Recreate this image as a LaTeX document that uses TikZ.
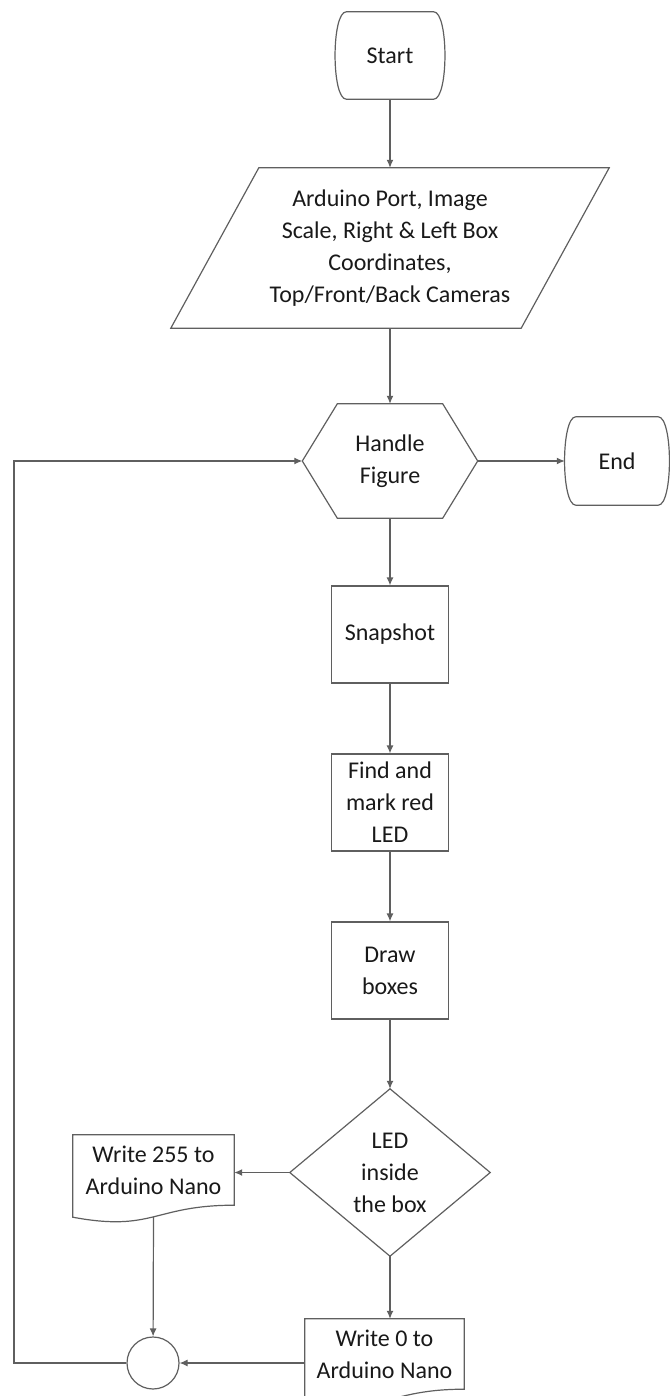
\documentclass[tikz,border=0pt]{standalone}
\usepackage{fontspec}
\setmainfont{Carlito}
\usepackage{xcolor}
\usepackage{tikz}
\usetikzlibrary{arrows.meta}
\definecolor{linegray}{RGB}{95,95,95}
\tikzstyle{frame}=[shape=rectangle, align=center, inner sep=0pt]
\tikzstyle{process}=[fill=white, draw=linegray, line width=1.2pt, shape=rectangle, align=center, inner sep=0pt, minimum width=117pt, minimum height=97pt]
\tikzstyle{connector}=[fill=white, draw=linegray, line width=1.2pt, shape=circle, inner sep=0pt, minimum size=52pt]
\tikzstyle{outline}=[draw=linegray, line width=1.2pt]
\tikzstyle{flow edge}=[-{Latex[length=8pt,width=7pt]}, draw=linegray, line width=1.2pt]
\pgfdeclarelayer{nodelayer}
\pgfdeclarelayer{edgelayer}
\pgfsetlayers{edgelayer,nodelayer,main}

\begin{document}
\begin{tikzpicture}[x=1pt, y=-1pt, every node/.style={font=\fontsize{24}{32}\selectfont, text=black!90}]
	\useasboundingbox (0,0) rectangle (669,1396);
	\begin{pgfonlayer}{nodelayer}
		\node [style=frame, minimum width=109pt, minimum height=87pt] (0) at (390, 55.5) {Start};
		\node [style=frame, minimum width=350pt, minimum height=160pt] (1) at (390, 248) {Arduino Port, Image\\Scale, Right \& Left Box\\Coordinates,\\Top/Front/Back Cameras};
		\node [style=frame, minimum width=175pt, minimum height=114pt] (2) at (390, 461) {Handle\\Figure};
		\node [style=frame, minimum width=104pt, minimum height=88pt] (3) at (617, 461) {End};
		\node [style=process] (4) at (390, 634.5) {Snapshot};
		\node [style=process] (5) at (390, 802.5) {Find and\\mark red\\LED};
		\node [style=process] (6) at (390, 970.5) {Draw\\boxes};
		\node [style=frame, minimum width=200pt, minimum height=167pt] (7) at (390, 1172.5) {LED\\inside\\the box};
		\node [style=frame, minimum width=161pt, minimum height=70pt] (8) at (153.5, 1170) {Write 255 to\\Arduino Nano};
		\node [style=frame, minimum width=159pt, minimum height=70pt] (9) at (384.5, 1354) {Write 0 to\\Arduino Nano};
		\node [style=connector] (10) at (153, 1363) {};
		\coordinate (11) at (14, 1363);
		% terminals
		\draw [style=outline] ([xshift=11pt]0.north west) -- ([xshift=-11pt]0.north east) .. controls ([xshift=4pt]0.north east) and ([xshift=4pt]0.south east) .. ([xshift=-11pt]0.south east) -- ([xshift=11pt]0.south west) .. controls ([xshift=-4pt]0.south west) and ([xshift=-4pt]0.north west) .. ([xshift=11pt]0.north west) -- cycle;
		\draw [style=outline] ([xshift=11pt]3.north west) -- ([xshift=-11pt]3.north east) .. controls ([xshift=4pt]3.north east) and ([xshift=4pt]3.south east) .. ([xshift=-11pt]3.south east) -- ([xshift=11pt]3.south west) .. controls ([xshift=-4pt]3.south west) and ([xshift=-4pt]3.north west) .. ([xshift=11pt]3.north west) -- cycle;
		% input
		\draw [style=outline] ([xshift=44pt]1.north west) -- ([xshift=44pt]1.north east) -- ([xshift=-44pt]1.south east) -- ([xshift=-44pt]1.south west) -- cycle;
		% preparation
		\draw [style=outline] (2.west) -- ([xshift=35pt]2.north west) -- ([xshift=-35pt]2.north east) -- (2.east) -- ([xshift=-35pt]2.south east) -- ([xshift=35pt]2.south west) -- cycle;
		% decision
		\draw [style=outline] (7.north) -- (7.east) -- (7.south) -- (7.west) -- cycle;
		% documents
		\draw [style=outline] (8.south west) |- (8.north east) -- (8.south east) .. controls (8.south) and ([yshift=-27pt]8.south) .. ([yshift=-12pt]8.south west) -- cycle;
		\draw [style=outline] (9.south west) |- (9.north east) -- (9.south east) .. controls (9.south) and ([yshift=-27pt]9.south) .. ([yshift=-12pt]9.south west) -- cycle;
	\end{pgfonlayer}
	\begin{pgfonlayer}{edgelayer}
		\draw [style=flow edge] (0) to (1);
		\draw [style=flow edge] (1) to (2);
		\draw [style=flow edge] (2) to (3);
		\draw [style=flow edge] (2) to (4);
		\draw [style=flow edge] (4) to (5);
		\draw [style=flow edge] (5) to (6);
		\draw [style=flow edge] (6) to (7);
		\draw [style=flow edge] (7.west) to (7.west -| 8.east);
		\draw [style=flow edge] (7.south) to (7.south |- 9.north);
		\draw [style=flow edge] ([yshift=-12pt]8.south) to (10);
		\draw [style=flow edge] (9.west |- 10) to (10);
		\draw [style=flow edge] (10) -- (11) |- (2.west);
	\end{pgfonlayer}
\end{tikzpicture}
\end{document}
